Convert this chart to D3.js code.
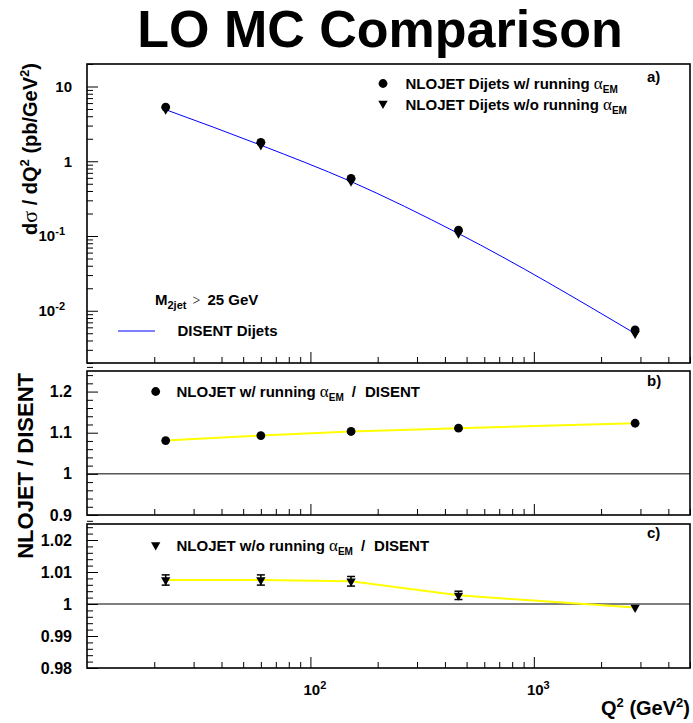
<!DOCTYPE html>
<html>
<head>
<meta charset="utf-8">
<script src="https://cdn.jsdelivr.net/npm/d3@7"></script>
<style>
  body { margin: 0; background: #fff; }
  svg text { font-family: "Liberation Sans", Arial, Helvetica, sans-serif; font-weight: bold; fill: #000; }
</style>
</head>
<body>
<svg id="chart" width="693" height="723"></svg>
<script>
// Q^2 bin centres (GeV^2)
const q2 = [22.5, 60, 152, 460, 2840];
// d sigma / dQ^2 (pb/GeV^2)
const disentXsec = [4.9, 1.64, 0.535, 0.108, 0.00495];
const nlojetRunXsec = [5.3, 1.79, 0.59, 0.12, 0.00556];
const nlojetFixXsec = [4.94, 1.65, 0.539, 0.1083, 0.00494];
// ratios to DISENT
const ratioRun = [1.081, 1.093, 1.103, 1.111, 1.123];
const ratioFix = [1.0075, 1.0075, 1.0071, 1.0027, 0.9989];
const ratioFixErr = [0.0016, 0.0016, 0.0015, 0.0013, 0.0003];

// axis ticks and labels
const xMajor = [100, 1000];
const xLabelBase = ["10", "10"];
const xLabelExp = ["2", "3"];
const yTicksA = [0.01, 0.1, 1, 10];
const yBaseA = ["10", "10", "1", "10"];
const yExpA = ["-2", "-1", "", ""];
const yTicksB = [0.9, 1, 1.1, 1.2];
const yLabelsB = ["0.9", "1", "1.1", "1.2"];
const yTicksC = [0.98, 0.99, 1, 1.01, 1.02];
const yLabelsC = ["0.98", "0.99", "1", "1.01", "1.02"];

const svg = d3.select("#chart");
svg.append("rect").attr("width", 693).attr("height", 723).attr("fill", "#fff");

const L = 87, R = 690;
const x = d3.scaleLog().domain([10, 5000]).range([L, R]);
const panels = {
  a: { top: 64, bottom: 363 },
  b: { top: 371, bottom: 515 },
  c: { top: 524, bottom: 668 }
};
const yA = d3.scaleLog().domain([0.002, 20]).range([panels.a.bottom, panels.a.top]);
const yB = d3.scaleLinear().domain([0.9, 1.25]).range([panels.b.bottom, panels.b.top]);
const yC = d3.scaleLinear().domain([0.98, 1.025]).range([panels.c.bottom, panels.c.top]);

// minor tick positions
const logMinor = (lo, hi) => {
  const out = [];
  for (let e = -4; e <= 4; e++) for (let m = 2; m <= 9; m++) {
    const v = m * Math.pow(10, e);
    if (v >= lo * 0.999 && v <= hi * 1.001) out.push(v);
  }
  return out;
};
const linMinor = (lo, hi, step, majors) =>
  d3.range(Math.round(lo / step), Math.round(hi / step) + 1)
    .map(k => +(k * step).toFixed(6))
    .filter(v => !majors.some(m => Math.abs(m - v) < step / 10));

const xMinor = logMinor(10.5, 4999).filter(v => !xMajor.includes(v));

function styleAxis(g) {
  g.select(".domain").remove();
  g.selectAll(".tick line").attr("stroke", "#000").attr("stroke-width", 1);
  g.attr("font-family", null).attr("font-size", null);
}

function drawXAxis(panel, withLabels) {
  const g0 = svg.append("g").attr("transform", `translate(0,${panel.bottom})`);
  g0.call(d3.axisBottom(x).tickValues(xMinor).tickSizeInner(-6).tickSizeOuter(0).tickFormat(""));
  styleAxis(g0);
  const g1 = svg.append("g").attr("transform", `translate(0,${panel.bottom})`);
  g1.call(d3.axisBottom(x).tickValues(xMajor).tickSizeInner(-11).tickSizeOuter(0)
    .tickPadding(16).tickFormat((d, i) => withLabels ? xLabelBase[i] : ""));
  styleAxis(g1);
  if (withLabels) {
    g1.selectAll(".tick text")
      .attr("font-size", 15).attr("x", 4)
      .each(function (d, i) {
        d3.select(this).append("tspan").attr("dy", "-0.5em").attr("font-size", 11).text(xLabelExp[i]);
      });
  }
}

function drawYAxis(scale, major, minor, fmt, fontSize) {
  const g0 = svg.append("g").attr("transform", `translate(${L},0)`);
  g0.call(d3.axisLeft(scale).tickValues(minor).tickSizeInner(-6).tickSizeOuter(0).tickFormat(""));
  styleAxis(g0);
  const g1 = svg.append("g").attr("transform", `translate(${L},0)`);
  g1.call(d3.axisLeft(scale).tickValues(major).tickSizeInner(-11).tickSizeOuter(0)
    .tickPadding(15).tickFormat(fmt));
  styleAxis(g1);
  g1.selectAll(".tick text").attr("font-size", fontSize);
  return g1;
}

function frame(panel) {
  svg.append("rect")
    .attr("x", L).attr("y", panel.top)
    .attr("width", R - L).attr("height", panel.bottom - panel.top)
    .attr("fill", "none").attr("stroke", "#000").attr("stroke-width", 1.6);
}

const triDown = d3.symbol().type(d3.symbolTriangle).size(38);
function drawTriangle(g, cx, cy) {
  g.append("path").attr("d", triDown())
    .attr("transform", `translate(${cx},${cy}) rotate(180)`).attr("fill", "#000");
}
function drawCircle(g, cx, cy) {
  g.append("circle").attr("cx", cx).attr("cy", cy).attr("r", 4.4).attr("fill", "#000");
}

// text with a Greek alpha carrying the "EM" subscript, optionally followed by "/  DISENT"
function alphaLabel(t, lead, withRatio) {
  t.append("tspan").text(lead);
  t.append("tspan").attr("font-family", "'Liberation Serif', 'DejaVu Serif', serif")
    .attr("font-weight", "normal").attr("font-size", 17).text("\u03b1");
  t.append("tspan").attr("font-size", 10).attr("dy", 4).text("EM");
  if (withRatio) {
    t.append("tspan").attr("dy", -4).attr("dx", 8).text("/");
    t.append("tspan").attr("dx", 9).text("DISENT");
  }
}

// ---------- title ----------
svg.append("text").attr("x", 380).attr("y", 47).attr("text-anchor", "middle")
  .attr("font-size", 52).text("LO MC Comparison");

// ---------- panel a: cross sections ----------
const gA = svg.append("g");
drawXAxis(panels.a, false);
const axA = drawYAxis(yA, yTicksA, logMinor(0.002, 20), (d, i) => yBaseA[i], 15);
axA.selectAll(".tick text").each(function (d, i) {
  if (yExpA[i]) {
    d3.select(this).attr("x", -22);
    d3.select(this).append("tspan").attr("dy", "-0.55em").attr("font-size", 11).text(yExpA[i]);
  }
});

const disentLine = d3.line().x((d, i) => x(q2[i])).y(d => yA(d)).curve(d3.curveMonotoneX);
gA.append("path").datum(disentXsec).attr("d", disentLine)
  .attr("fill", "none").attr("stroke", "#0000ff").attr("stroke-width", 1);
nlojetFixXsec.forEach((v, i) => drawTriangle(gA, x(q2[i]), yA(v)));
nlojetRunXsec.forEach((v, i) => drawCircle(gA, x(q2[i]), yA(v)));

// legend a
drawCircle(svg, 383, 83.5);
drawTriangle(svg, 383, 103.5);
alphaLabel(svg.append("text").attr("x", 405.5).attr("y", 89).attr("font-size", 15),
  "NLOJET Dijets w/ running ", false);
alphaLabel(svg.append("text").attr("x", 405.5).attr("y", 110).attr("font-size", 15),
  "NLOJET Dijets w/o running ", false);
svg.append("text").attr("x", 647).attr("y", 81.5).attr("font-size", 15).text("a)");

const mt = svg.append("text").attr("x", 155).attr("y", 305).attr("font-size", 15);
mt.append("tspan").text("M");
mt.append("tspan").attr("font-size", 11).attr("dy", 4).text("2jet");
mt.append("tspan").attr("dy", -4).attr("dx", 6).attr("font-weight", "normal")
  .attr("font-family", "'Liberation Serif', 'DejaVu Serif', serif").attr("font-size", 14).text(">");
mt.append("tspan").attr("dx", 7).text("25 GeV");
svg.append("line").attr("x1", 118).attr("x2", 155).attr("y1", 331).attr("y2", 331)
  .attr("stroke", "#0000ff").attr("stroke-width", 1);
svg.append("text").attr("x", 177.5).attr("y", 336).attr("font-size", 15).text("DISENT Dijets");

frame(panels.a);

// ---------- panel b: running alpha / DISENT ----------
drawXAxis(panels.b, false);
drawYAxis(yB, yTicksB, linMinor(0.9, 1.25, 0.02, yTicksB), (d, i) => yLabelsB[i], 16);
svg.append("line").attr("x1", L).attr("x2", R).attr("y1", yB(1)).attr("y2", yB(1))
  .attr("stroke", "#000").attr("stroke-width", 1);
const lineB = d3.line().x((d, i) => x(q2[i])).y(d => yB(d));
svg.append("path").datum(ratioRun).attr("d", lineB)
  .attr("fill", "none").attr("stroke", "#ffff00").attr("stroke-width", 2);
ratioRun.forEach((v, i) => drawCircle(svg, x(q2[i]), yB(v)));
drawCircle(svg, 155.7, 391.5);
alphaLabel(svg.append("text").attr("x", 176.5).attr("y", 397).attr("font-size", 15),
  "NLOJET w/ running ", true);
svg.append("text").attr("x", 647).attr("y", 386).attr("font-size", 15).text("b)");
frame(panels.b);

// ---------- panel c: fixed alpha / DISENT ----------
drawXAxis(panels.c, true);
drawYAxis(yC, yTicksC, linMinor(0.98, 1.025, 0.002, yTicksC), (d, i) => yLabelsC[i], 16);
svg.append("line").attr("x1", L).attr("x2", R).attr("y1", yC(1)).attr("y2", yC(1))
  .attr("stroke", "#000").attr("stroke-width", 1);
const lineC = d3.line().x((d, i) => x(q2[i])).y(d => yC(d));
svg.append("path").datum(ratioFix).attr("d", lineC)
  .attr("fill", "none").attr("stroke", "#ffff00").attr("stroke-width", 2);
ratioFix.forEach((v, i) => {
  const cx = x(q2[i]);
  const y0 = yC(v), y1 = yC(v + ratioFixErr[i]), y2 = yC(v - ratioFixErr[i]);
  if (y0 - y1 > 3) {
    svg.append("line").attr("x1", cx).attr("x2", cx).attr("y1", y1).attr("y2", y2)
      .attr("stroke", "#000").attr("stroke-width", 1.5);
    [y1, y2].forEach(yy => svg.append("line").attr("x1", cx - 4).attr("x2", cx + 4)
      .attr("y1", yy).attr("y2", yy).attr("stroke", "#000").attr("stroke-width", 1.5));
  }
  drawTriangle(svg, cx, y0);
});
drawTriangle(svg, 155.7, 545);
alphaLabel(svg.append("text").attr("x", 176.5).attr("y", 550.5).attr("font-size", 15),
  "NLOJET w/o running ", true);
svg.append("text").attr("x", 647).attr("y", 538).attr("font-size", 15).text("c)");
frame(panels.c);

// ---------- axis titles ----------
const tA = svg.append("text").attr("transform", "translate(37,63) rotate(-90)")
  .attr("text-anchor", "end").attr("font-size", 20);
tA.append("tspan").text("d");
tA.append("tspan").attr("font-weight", "normal")
  .attr("font-family", "'Liberation Serif', 'DejaVu Serif', serif").attr("font-size", 22).text("\u03c3");
tA.append("tspan").text(" / dQ");
tA.append("tspan").attr("font-size", 13).attr("dy", -8).text("2");
tA.append("tspan").attr("dy", 8).text(" (pb/GeV");
tA.append("tspan").attr("font-size", 13).attr("dy", -8).text("2");
tA.append("tspan").attr("dy", 8).text(")");

svg.append("text").attr("transform", "translate(33,373) rotate(-90)")
  .attr("text-anchor", "end").attr("font-size", 22).text("NLOJET / DISENT");

const tX = svg.append("text").attr("x", 690).attr("y", 715).attr("text-anchor", "end").attr("font-size", 20);
tX.append("tspan").text("Q");
tX.append("tspan").attr("font-size", 13).attr("dy", -8).text("2");
tX.append("tspan").attr("dy", 8).text(" (GeV");
tX.append("tspan").attr("font-size", 13).attr("dy", -8).text("2");
tX.append("tspan").attr("dy", 8).text(")");
</script>
</body>
</html>
